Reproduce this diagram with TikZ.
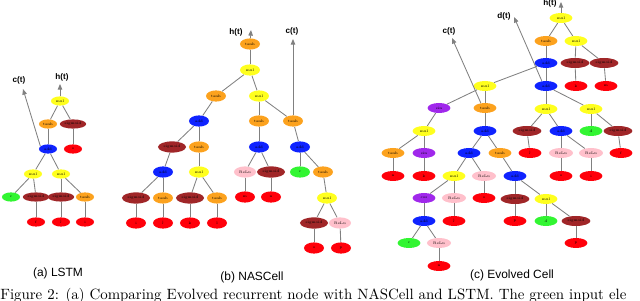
\documentclass[tikz,border=0pt]{standalone}
\usepackage{fontspec}
\newfontfamily\labelfont{Liberation Sans}
\usetikzlibrary{shapes.geometric,arrows.meta}

\definecolor{mulc}{RGB}{255,255,30}
\definecolor{addc}{RGB}{15,35,255}
\definecolor{tanhc}{RGB}{252,162,30}
\definecolor{sigc}{RGB}{160,38,40}
\definecolor{reluc}{RGB}{255,192,203}
\definecolor{trigc}{RGB}{160,40,235}
\definecolor{inc}{RGB}{50,245,50}
\definecolor{leafc}{RGB}{255,0,10}

\begin{document}
\begin{tikzpicture}[x=0.025cm, y=-0.025cm,
    op/.style={ellipse, inner sep=0pt, font=\fontsize{2.6}{3}\selectfont},
    sm/.style={minimum width=0.5cm, minimum height=0.28cm},
    wd/.style={minimum width=0.7cm, minimum height=0.28cm},
    rl/.style={minimum width=0.55cm, minimum height=0.28cm},
    mulnode/.style={op, sm, fill=mulc},
    addnode/.style={op, sm, fill=addc},
    tanhnode/.style={op, sm, fill=tanhc},
    signode/.style={op, wd, fill=sigc},
    relunode/.style={op, rl, fill=reluc},
    trignode/.style={op, sm, fill=trigc},
    innode/.style={op, sm, fill=inc},
    leafnode/.style={op, sm, fill=leafc},
    link/.style={draw=gray, line width=0.6pt},
    outarrow/.style={link, -{Triangle[length=4pt, width=3.2pt]}},
    outlabel/.style={inner sep=0pt, font=\labelfont\bfseries\fontsize{5.8}{6}\selectfont},
    sublabel/.style={inner sep=0pt, font=\labelfont\fontsize{8.5}{10}\selectfont}
]
\useasboundingbox (0,0) rectangle (640,301);

% (a) LSTM
\begin{scope}[sm/.style={minimum width=0.45cm, minimum height=0.23cm},
              wd/.style={minimum width=0.66cm, minimum height=0.23cm}]
    \node[mulnode] (aMulTop) at (60,101) {mul};
    \node[tanhnode] (aTanh) at (48,124) {tanh};
    \node[signode] (aSig) at (73,124) {sigmoid};
    \node[addnode] (aAdd) at (48,149) {add};
    \node[leafnode] (aO) at (73,149) {o};
    \node[mulnode] (aMulL) at (33,174) {mul};
    \node[mulnode] (aMulR) at (61,174) {mul};
    \node[innode] (aC) at (11,197) {c};
    \node[signode] (aSigF) at (36,197) {sigmoid};
    \node[signode] (aSigJ) at (61,197) {sigmoid};
    \node[tanhnode] (aTanhI) at (85,197) {tanh};
    \node[leafnode] (aF) at (36,222) {f};
    \node[leafnode] (aJ) at (61,222) {j};
    \node[leafnode] (aI) at (85,222) {i};

    \foreach \u/\v in {aMulTop/aTanh, aMulTop/aSig, aTanh/aAdd, aSig/aO,
                       aAdd/aMulL, aAdd/aMulR, aMulL/aC, aMulL/aSigF,
                       aMulR/aSigJ, aMulR/aTanhI, aSigF/aF, aSigJ/aJ, aTanhI/aI}
        \draw[link] (\u) -- (\v);

    \coordinate (aHt) at (60,84);
    \coordinate (aCt) at (23,89);
    \draw[outarrow] (aMulTop) -- (aHt);
    \draw[outarrow] (aAdd.160) -- (aCt);
    \node[outlabel] (aHtLabel) at (62,77) {h(t)};
    \node[outlabel] (aCtLabel) at (19,80) {c(t)};
\end{scope}

% (b) NASCell
\begin{scope}
    \node[tanhnode] (bTanhTop) at (250,44) {tanh};
    \node[mulnode] (bMulTop) at (250,70) {mul};
    \node[tanhnode] (bTanhL) at (216,96) {tanh};
    \node[mulnode] (bMulR) at (259,96) {mul};
    \node[addnode] (bAddL) at (199,121) {add};
    \node[tanhnode] (bTanhM) at (259,121) {tanh};
    \node[tanhnode] (bTanhR) at (293,121) {tanh};
    \node[signode] (bSig1) at (172,147) {sigmoid};
    \node[tanhnode] (bTanh1) at (199,147) {tanh};
    \node[addnode] (bAddM) at (259,147) {add};
    \node[addnode] (bAddR) at (300,147) {add};
    \node[addnode] (bAdd2) at (163,172) {add};
    \node[mulnode] (bMul2) at (199,172) {mul};
    \node[relunode] (bRelu1) at (245,172) {ReLu};
    \node[signode] (bSig2) at (271,172) {sigmoid};
    \node[innode] (bC) at (300,172) {c};
    \node[tanhnode] (bTanh2) at (323,172) {tanh};
    \node[signode] (bSigI) at (136,198) {sigmoid};
    \node[tanhnode] (bTanhJ) at (163,198) {tanh};
    \node[signode] (bSigK) at (190,198) {sigmoid};
    \node[tanhnode] (bTanhL2) at (217,198) {tanh};
    \node[leafnode] (bM) at (245,197) {m};
    \node[leafnode] (bN) at (271,197) {n};
    \node[mulnode] (bMul3) at (327,198) {mul};
    \node[leafnode] (bI) at (136,223) {i};
    \node[leafnode] (bJ) at (163,223) {j};
    \node[leafnode] (bK) at (190,223) {k};
    \node[leafnode] (bL) at (217,223) {l};
    \node[signode] (bSig3) at (314,223) {sigmoid};
    \node[relunode] (bRelu2) at (340,223) {ReLu};
    \node[leafnode] (bO) at (314,248) {o};
    \node[leafnode] (bP) at (341,248) {p};

    \foreach \u/\v in {bTanhTop/bMulTop, bMulTop/bTanhL, bMulTop/bMulR,
                       bTanhL/bAddL, bMulR/bTanhM, bMulR/bTanhR,
                       bAddL/bSig1, bAddL/bTanh1, bTanhM/bAddM, bTanhR/bAddR,
                       bSig1/bAdd2, bTanh1/bMul2, bAdd2/bSigI, bAdd2/bTanhJ,
                       bMul2/bSigK, bMul2/bTanhL2, bSigI/bI, bTanhJ/bJ,
                       bSigK/bK, bTanhL2/bL, bAddM/bRelu1, bAddM/bSig2,
                       bRelu1/bM, bSig2/bN, bAddR/bC, bAddR/bTanh2,
                       bTanh2/bMul3, bMul3/bSig3, bMul3/bRelu2, bSig3/bO, bRelu2/bP}
        \draw[link] (\u) -- (\v);

    \coordinate (bHt) at (251,30);
    \coordinate (bCt) at (293,39);
    \draw[outarrow] (bTanhTop) -- (bHt);
    \draw[outarrow] (bTanhR) -- (bCt);
    \node[outlabel] (bHtLabel) at (236,32) {h(t)};
    \node[outlabel] (bCtLabel) at (292,31) {c(t)};
\end{scope}

% (c) Evolved Cell
\begin{scope}[sm/.style={minimum width=0.57cm, minimum height=0.25cm},
              wd/.style={minimum width=0.72cm, minimum height=0.25cm},
              rl/.style={minimum width=0.6cm, minimum height=0.25cm}]
    \node[mulnode] (cMulTop) at (561,18) {mul};
    \node[tanhnode] (cTanh) at (546,41) {tanh};
    \node[mulnode] (cMulR) at (576,41) {mul};
    \node[addnode] (cAdd1) at (546,63) {add};
    \node[signode] (cSigK) at (575,63) {sigmoid};
    \node[signode] (cSigM) at (604,63) {sigmoid};
    \node[mulnode] (cMulA) at (485,86) {mul};
    \node[addnode] (cAdd2) at (546,86) {add};
    \node[leafnode] (cK) at (576,86) {k};
    \node[leafnode] (cM) at (606,86) {m};
    \node[trignode] (cSin) at (439,108) {sin};
    \node[tanhnode] (cTanhA) at (485,108) {tanh};
    \node[mulnode] (cMulB) at (546,109) {mul};
    \node[mulnode] (cMulC) at (591,109) {mul};
    \node[mulnode] (cMulD) at (424,131) {mul};
    \node[addnode] (cAddB) at (485,131) {add};
    \node[signode] (cSigJ) at (527,131) {sigmoid};
    \node[addnode] (cAddC) at (561,131) {add};
    \node[innode] (cD) at (591,131) {d};
    \node[signode] (cSigF) at (618,131) {sigmoid};
    \node[tanhnode] (cTanhN) at (393,153) {tanh};
    \node[trignode] (cSinK) at (424,153) {sin};
    \node[addnode] (cAddD) at (469,153) {add};
    \node[tanhnode] (cTanhB) at (500,153) {tanh};
    \node[leafnode] (cJ) at (530,153) {j};
    \node[relunode] (cReluO) at (561,153) {ReLu};
    \node[relunode] (cReluI) at (591,153) {ReLu};
    \node[leafnode] (cF) at (621,153) {f};
    \node[leafnode] (cN) at (393,176) {n};
    \node[leafnode] (cK2) at (424,176) {k};
    \node[mulnode] (cMulE) at (454,176) {mul};
    \node[relunode] (cReluE) at (484,176) {ReLu};
    \node[addnode] (cAddE) at (515,176) {add};
    \node[leafnode] (cO) at (561,176) {o};
    \node[leafnode] (cI) at (591,176) {i};
    \node[trignode] (cCos) at (424,198) {cos};
    \node[relunode] (cReluF) at (454,198) {ReLu};
    \node[leafnode] (cO2) at (484,198) {o};
    \node[signode] (cSigP) at (515,199) {sigmoid};
    \node[mulnode] (cMulF) at (546,199) {mul};
    \node[addnode] (cAddF) at (424,221) {add};
    \node[leafnode] (cJ2) at (454,221) {j};
    \node[leafnode] (cP) at (515,221) {p};
    \node[innode] (cD2) at (546,221) {d};
    \node[signode] (cSigQ) at (576,221) {sigmoid};
    \node[innode] (cC) at (409,243) {c};
    \node[relunode] (cReluG) at (439,243) {ReLu};
    \node[leafnode] (cP2) at (576,243) {p};
    \node[leafnode] (cN2) at (439,266) {n};

    \foreach \u/\v in {cMulTop/cTanh, cMulTop/cMulR, cTanh/cAdd1, cMulR/cSigK,
                       cMulR/cSigM, cSigK/cK, cSigM/cM, cAdd1/cMulA, cAdd1/cAdd2,
                       cMulA/cSin, cMulA/cTanhA, cAdd2/cMulB, cAdd2/cMulC,
                       cSin/cMulD, cTanhA/cAddB, cMulB/cSigJ, cMulB/cAddC,
                       cMulC/cD, cMulC/cSigF, cMulD/cTanhN, cMulD/cSinK,
                       cAddB/cAddD, cAddB/cTanhB, cSigJ/cJ, cAddC/cReluO,
                       cAddC/cReluI, cSigF/cF, cTanhN/cN, cSinK/cK2,
                       cAddD/cMulE, cAddD/cReluE, cTanhB/cAddE, cReluO/cO,
                       cReluI/cI, cMulE/cCos, cMulE/cReluF, cReluE/cO2,
                       cAddE/cSigP, cAddE/cMulF, cCos/cAddF, cReluF/cJ2,
                       cSigP/cP, cMulF/cD2, cMulF/cSigQ, cAddF/cC, cAddF/cReluG,
                       cSigQ/cP2, cReluG/cN2}
        \draw[link] (\u) -- (\v);

    \coordinate (cHt) at (561,2);
    \coordinate (cDt) at (514,17);
    \coordinate (cCt) at (452,38);
    \draw[outarrow] (cMulTop) -- (cHt);
    \draw[outarrow] (cAdd2.130) -- (cDt);
    \draw[outarrow] (cTanhA.130) -- (cCt);
    \node[outlabel] (cHtLabel) at (550,3.6) {h(t)};
    \node[outlabel] (cDtLabel) at (504,16) {d(t)};
    \node[outlabel] (cCtLabel) at (449,31) {c(t)};
\end{scope}

% sub-figure captions
\node[sublabel] (capA) at (58,273) {(a) LSTM};
\node[sublabel] (capB) at (252,277) {(b) NASCell};
\node[sublabel] (capC) at (512,275) {(c) Evolved Cell};

\node[anchor=base west, inner sep=0pt, font=\fontsize{10.6}{12}\selectfont] (figCaption) at (0,300)
    {Figure 2: (a) Comparing Evolved recurrent node with NASCell and LSTM. The green input ele};
\end{tikzpicture}
\end{document}
